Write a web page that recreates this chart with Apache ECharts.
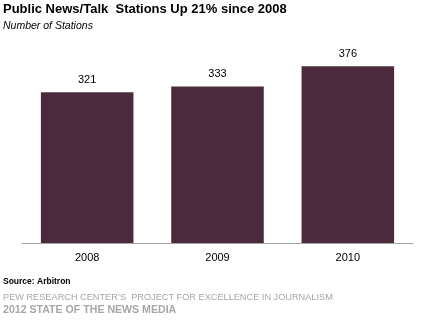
<!DOCTYPE html>
<html>
<head>
<meta charset="utf-8">
<script src="https://cdn.jsdelivr.net/npm/echarts@6/dist/echarts.min.js"></script>
<style>
  html, body { margin: 0; padding: 0; background: #fff; }
  #chart { width: 424px; height: 322px; }
</style>
</head>
<body>
<div id="chart"></div>
<script>
// Public news/talk station counts by year
const years = ['2008', '2009', '2010'];
const stations = [321, 333, 376];

const chart = echarts.init(document.getElementById('chart'), null, { renderer: 'canvas' });
const font = '"Liberation Sans", Arial, sans-serif';

chart.setOption({
  animation: false,
  textStyle: { fontFamily: font },
  title: [
    {
      text: 'Public News/Talk  Stations Up 21% since 2008',
      left: 3, top: 3, padding: 0,
      textStyle: { fontFamily: font, fontSize: 13, fontWeight: 'bold', color: '#000' }
    },
    {
      text: 'Number of Stations',
      left: 3, top: 21, padding: 0,
      textStyle: { fontFamily: font, fontSize: 10.5, fontStyle: 'italic', fontWeight: 'normal', color: '#000' }
    },
    {
      text: 'Source: Arbitron',
      left: 3, top: 277, padding: 0,
      textStyle: { fontFamily: font, fontSize: 8.5, fontWeight: 'bold', color: '#000' }
    },
    {
      text: 'PEW RESEARCH CENTER\u2019S  PROJECT FOR EXCELLENCE IN JOURNALISM',
      left: 3, top: 293, padding: 0,
      textStyle: { fontFamily: font, fontSize: 9.2, fontWeight: 'normal', color: '#a6a6a6' }
    },
    {
      text: '2012 STATE OF THE NEWS MEDIA',
      left: 3, top: 305, padding: 0,
      textStyle: { fontFamily: font, fontSize: 10.6, fontWeight: 'bold', color: '#a6a6a6' }
    }
  ],
  grid: { left: 22, right: 11, top: 55, bottom: 79, containLabel: false },
  xAxis: {
    type: 'category',
    data: years,
    axisLine: { lineStyle: { color: '#a6a6a6', width: 1 } },
    axisTick: { show: false },
    axisLabel: { color: '#000', fontSize: 11, margin: 9, fontFamily: font }
  },
  yAxis: {
    type: 'value',
    min: 0, max: 400,
    show: false
  },
  series: [{
    type: 'bar',
    data: stations,
    barWidth: '71%',
    itemStyle: { color: '#4b2b3b' },
    label: {
      show: true, position: 'top', distance: 7,
      color: '#000', fontSize: 11, fontFamily: font
    }
  }]
});
</script>
</body>
</html>
